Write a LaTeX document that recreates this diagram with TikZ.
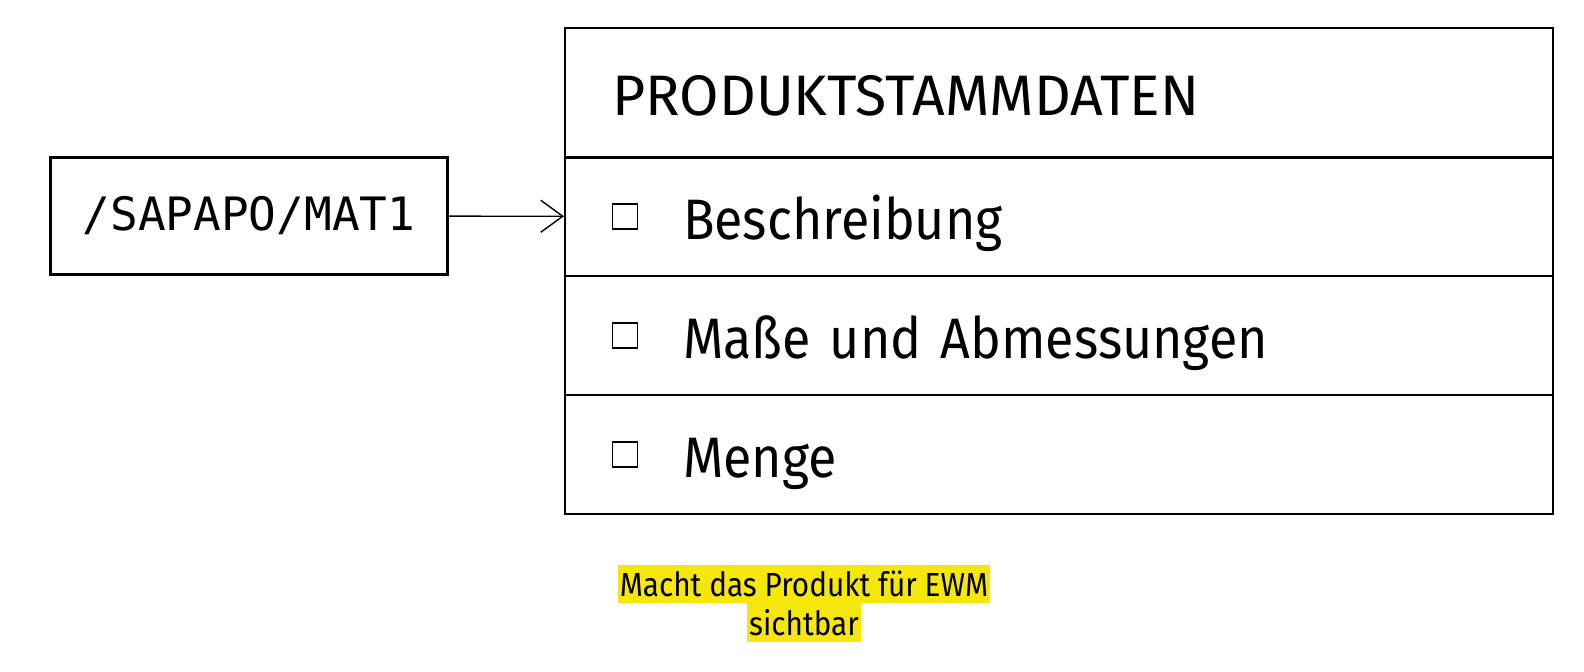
\documentclass[tikz,border=0pt]{standalone}
\usepackage{fontspec}
\setmainfont{Fira Sans}
\newfontfamily\schmalfont[FakeStretch=0.91]{Fira Sans}
\newfontfamily\notizfont[FakeStretch=0.89]{Fira Sans}
\newfontfamily\monofont{DejaVu Sans Mono}
\usetikzlibrary{positioning,arrows.meta}
\definecolor{markgelb}{RGB}{245,230,12}

\begin{document}
\begin{tikzpicture}[x=0.02cm,y=-0.02cm,node distance=2.38cm,on grid,
        line width=1.3pt,
        >={Straight Barb[length=0.44cm,width=0.64cm,line width=0.8pt]},
        cell/.style={draw,rectangle,minimum width=19.76cm,minimum height=2.38cm,
            text width=15.04cm,inner xsep=2.36cm,inner ysep=0pt,align=left,
            text height=1.2cm,text depth=0.28cm,
            font=\schmalfont\fontsize{32.5}{40}\selectfont},
        kopfcell/.style={cell,minimum height=2.59cm,text width=17.86cm,inner xsep=0.95cm,
            font=\fontsize{32.5}{40}\selectfont},
        chkbox/.style={draw,rectangle,line width=1pt,minimum size=0.5cm,inner sep=0pt},
        notiz/.style={fill=markgelb,inner xsep=1pt,inner ysep=0pt,minimum height=0.77cm,
            font=\notizfont\fontsize{19}{22}\selectfont}]
    \useasboundingbox (0,0) rectangle (1584,672);
    % Produktstammdaten
    \node[kopfcell] (kopf) at (1059,93) {PRODUKTSTAMMDATEN};
    \node[cell] (zeile_1) at (1059,216.7) {Beschreibung};
    \node[cell] (zeile_2) [below=of zeile_1] {Maße und Abmessungen};
    \node[cell] (zeile_3) [below=of zeile_2] {Menge};
    \foreach \i in {1,2,3}
        \node[chkbox] (box_\i) at ([xshift=1.22cm]zeile_\i.west) {};
    % Material
    \node[draw,minimum width=7.94cm,minimum height=2.34cm,
        font=\monofont\fontsize{26.2}{30}\selectfont] (mat_1) at (249,216) {/SAPAPO/MAT1};
    \draw[->,line width=0.8pt] (mat_1) -- (zeile_1);
    % Notiz
    \node[notiz] (notiz_1) at (804,584) {Macht das Produkt für EWM};
    \node[notiz] (notiz_2) [below=0.77cm of notiz_1] {sichtbar};
\end{tikzpicture}
\end{document}
